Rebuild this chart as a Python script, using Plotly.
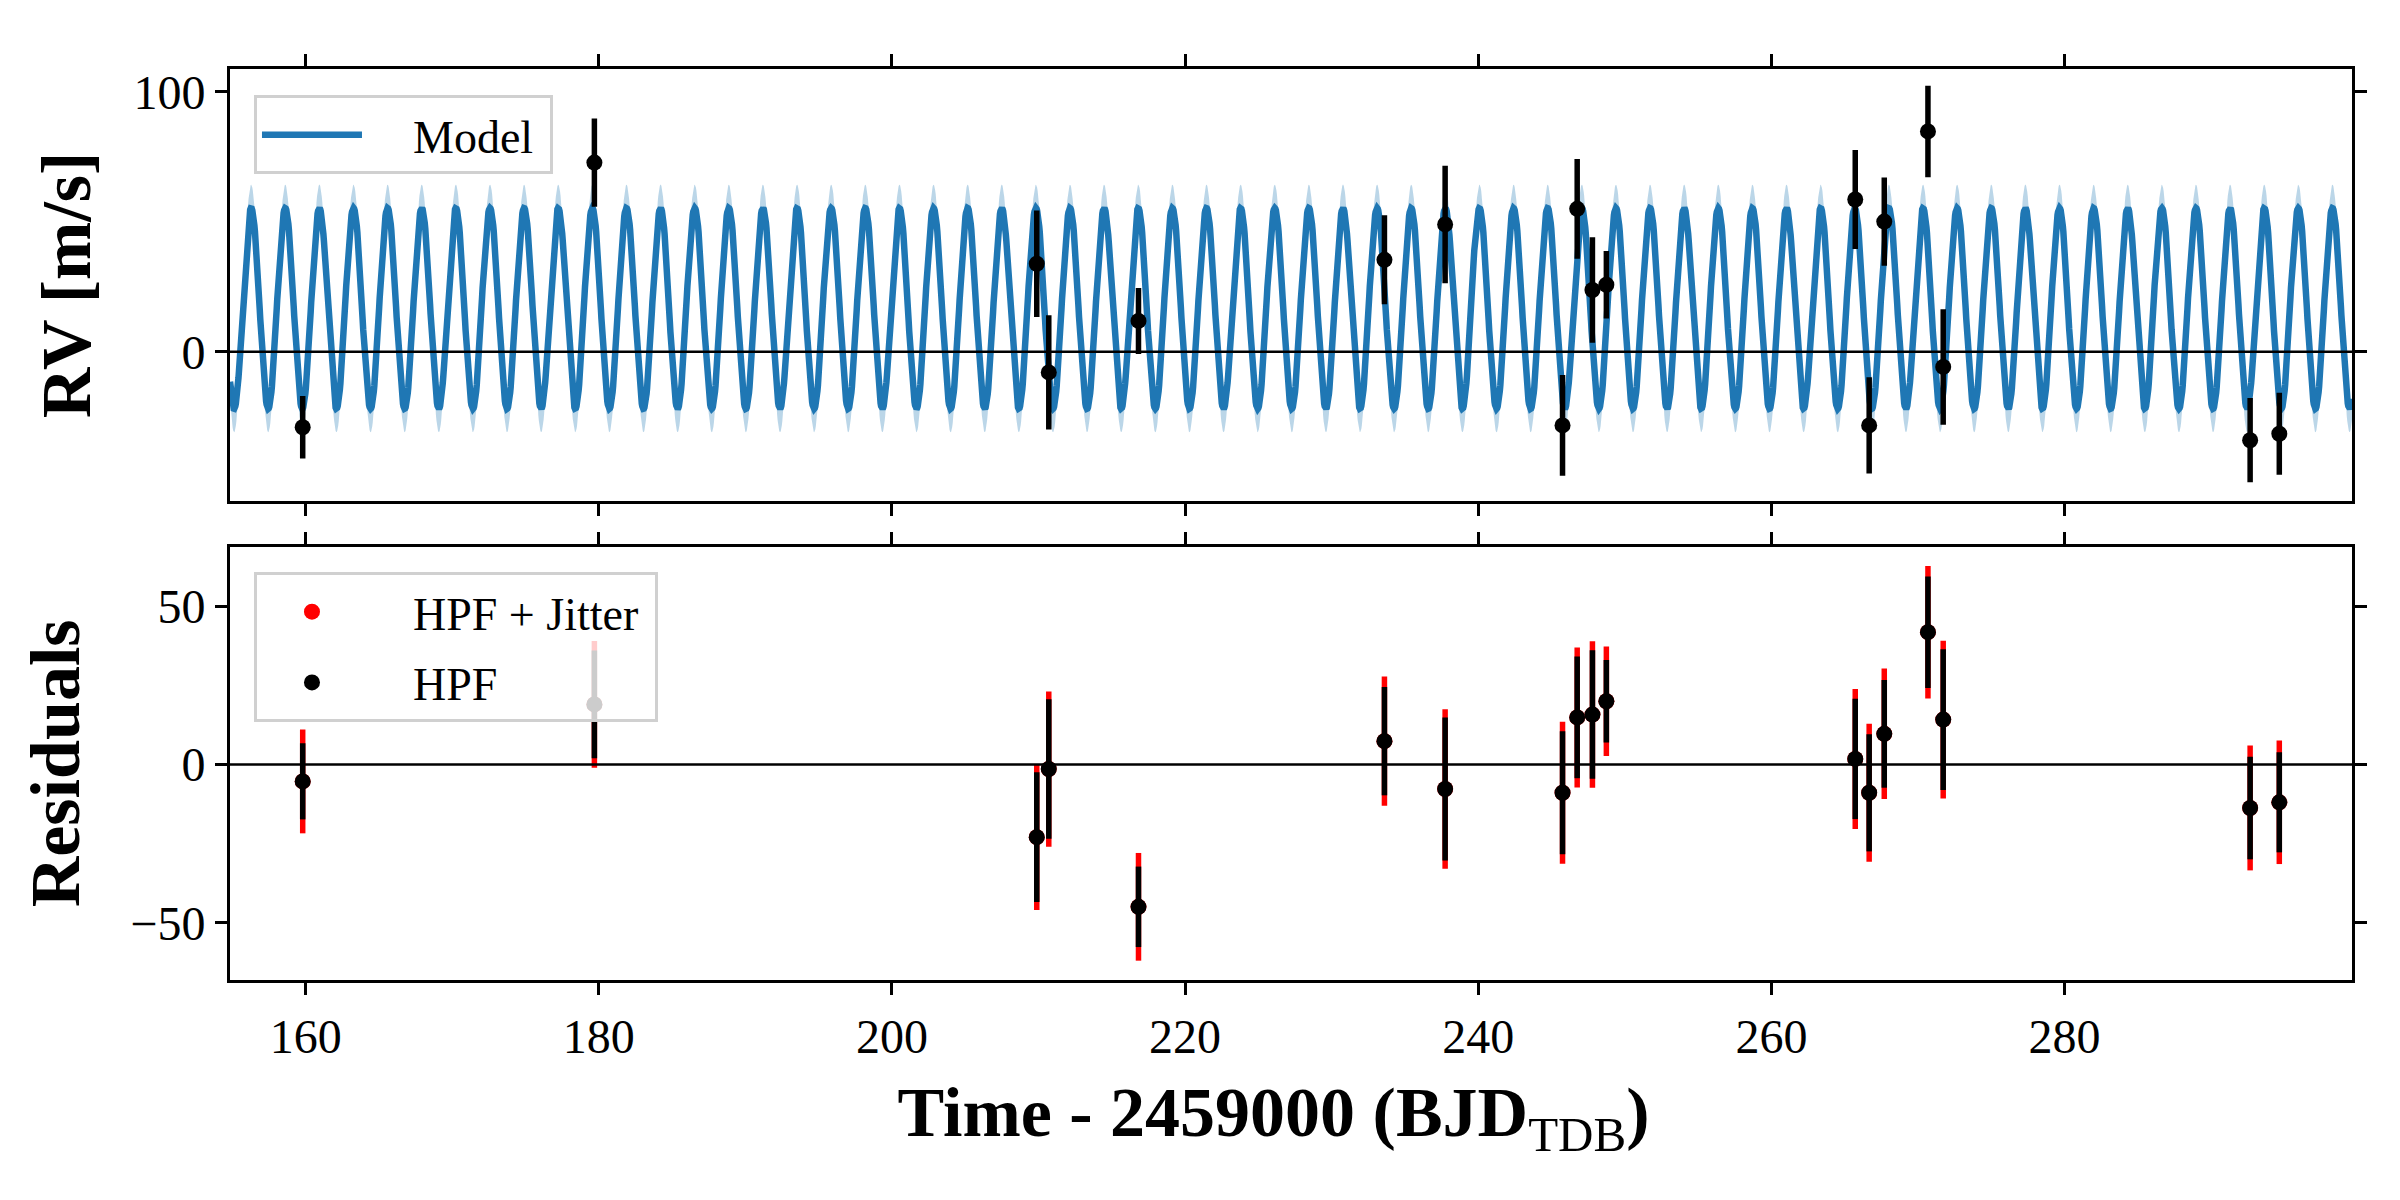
import numpy as np
import plotly.graph_objects as go

# HPF radial velocities (time - 2459000, m/s)
t_obs = [159.80, 179.70, 209.88, 210.70, 216.82, 233.60, 237.74, 245.75, 246.75,
         247.79, 248.74, 265.72, 266.67, 267.70, 270.68, 271.72, 292.66, 294.65]
rv = [-29.0, 72.8, 33.9, -7.9, 11.9, 35.4, 49.0, -28.3, 55.0,
      23.8, 25.8, 58.6, -28.3, 50.1, 84.8, -5.8, -34.0, -31.5]
rv_err = [12.0, 17.0, 20.5, 22.0, 12.7, 17.1, 22.6, 19.4, 19.2,
          20.3, 13.0, 19.0, 18.5, 17.0, 17.6, 22.2, 16.2, 15.8]
resid = [-5.3, 19.0, -22.9, -1.4, -44.9, 7.4, -7.7, -8.9, 14.9,
         15.8, 20.0, 1.8, -8.9, 9.7, 41.8, 14.2, -13.7, -11.9]
resid_err_jit = [16.4, 20.0, 23.0, 24.5, 17.0, 20.4, 25.2, 22.4, 22.1,
                 23.1, 17.3, 22.1, 21.8, 20.6, 20.9, 24.9, 19.7, 19.5]

# model parameters
P = 2.3278        # days
T_PEAK = 156.283  # first maximum
K = 38.6          # semi-amplitude
GAMMA = 16.7      # offset
K_UP = 9.0        # width of the shaded band at the extremes

x_range = [154.84, 299.61]
x_ticks = [160, 180, 200, 220, 240, 260, 280]

t_model = np.linspace(x_range[0], x_range[1], 4000)
phase = np.cos(2 * np.pi * (t_model - T_PEAK) / P)
rv_model = GAMMA + K * phase
rv_band = GAMMA + (K + K_UP) * phase

FONT = "Liberation Serif"
BLUE = "#1f77b4"
GAP = "\u00a0" * 4  # room between legend symbol and label

fig = go.Figure()

# shaded band
fig.add_trace(go.Scatter(x=t_model, y=rv_model, mode="lines", line=dict(width=0),
                         showlegend=False, hoverinfo="skip", xaxis="x", yaxis="y"))
fig.add_trace(go.Scatter(x=t_model, y=rv_band, mode="lines", line=dict(width=0),
                         fill="tonexty", fillcolor="rgba(31,119,180,0.3)",
                         showlegend=False, hoverinfo="skip", xaxis="x", yaxis="y"))
# model
fig.add_trace(go.Scatter(x=t_model, y=rv_model, mode="lines", name=GAP + "Model\u00a0",
                         line=dict(color=BLUE, width=6.5), legend="legend",
                         xaxis="x", yaxis="y"))
# data
fig.add_trace(go.Scatter(x=t_obs, y=rv, mode="markers", showlegend=False,
                         marker=dict(color="black", size=16),
                         error_y=dict(type="data", array=rv_err, color="black",
                                      thickness=5.5, width=0),
                         xaxis="x", yaxis="y"))

# residuals
fig.add_trace(go.Scatter(x=t_obs, y=resid, mode="markers", name=GAP + "HPF + Jitter\u00a0",
                         marker=dict(color="red", size=16), legendgroup="jit",
                         error_y=dict(type="data", array=resid_err_jit, color="red",
                                      thickness=5.5, width=0),
                         legend="legend2", xaxis="x2", yaxis="y2"))
fig.add_trace(go.Scatter(x=t_obs, y=resid, mode="markers", name=GAP + "HPF",
                         marker=dict(color="black", size=16), legendgroup="hpf",
                         error_y=dict(type="data", array=rv_err, color="black",
                                      thickness=5.5, width=0),
                         legend="legend2", xaxis="x2", yaxis="y2"))

# zero lines
for yr, xr in (("y", "x domain"), ("y2", "x2 domain")):
    fig.add_shape(type="line", xref=xr, yref=yr, x0=0, x1=1, y0=0, y1=0,
                  line=dict(color="black", width=2.5), layer="above")

axis_common = dict(showline=True, linecolor="black", linewidth=3, mirror="allticks",
                   ticks="outside", ticklen=12, tickwidth=2.5, tickcolor="black",
                   showgrid=False, zeroline=False,
                   tickfont=dict(family=FONT, size=48, color="black"))

legend_common = dict(bgcolor="rgba(255,255,255,0.8)", bordercolor="#d0d0d0",
                     borderwidth=3, font=dict(family=FONT, size=46, color="black"),
                     xanchor="left", yanchor="top", itemwidth=100,
                     tracegroupgap=8)

title_font = dict(family=FONT, size=70, color="black")

fig.update_layout(
    width=2400, height=1200,
    margin=dict(l=222, r=56, t=61, b=228),
    plot_bgcolor="white", paper_bgcolor="white",
    font=dict(family=FONT, color="black"),
    xaxis=dict(domain=[0, 1], range=x_range, tickvals=x_ticks, showticklabels=False,
               anchor="y", matches="x2", **axis_common),
    yaxis=dict(domain=[0.526, 1], range=[-57.3, 108.8], tickvals=[0, 100], anchor="x",
               title=dict(text="<b>RV [m/s]</b>", standoff=20, font=title_font),
               **axis_common),
    xaxis2=dict(domain=[0, 1], range=x_range, tickvals=x_ticks, anchor="y2",
                title=dict(text="<b>Time - 2459000 (BJD</b><sub>TDB</sub><b>)\u00a0\u00a0</b>",
                           standoff=26, font=title_font),
                **axis_common),
    yaxis2=dict(domain=[0, 0.4757], range=[-68.0, 68.8], tickvals=[-50, 0, 50],
                anchor="x2",
                title=dict(text="<b>Residuals</b>", standoff=28, font=title_font),
                **axis_common),
    legend=dict(x=0.0113, y=0.971, **legend_common),
    legend2=dict(x=0.0113, y=0.4476, traceorder="grouped", **legend_common),
)

fig.write_html("out.html")
